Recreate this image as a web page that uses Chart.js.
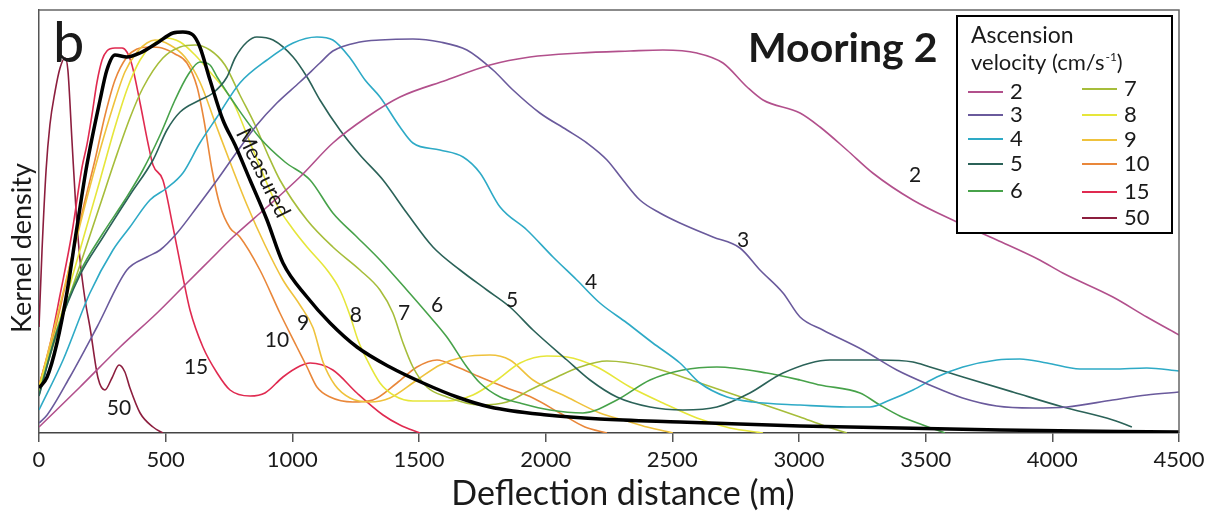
<!DOCTYPE html>
<html>
<head>
<meta charset="utf-8">
<script src="https://cdn.jsdelivr.net/npm/chart.js@4.4.1/dist/chart.umd.min.js"></script>
<style>
  html, body { margin: 0; padding: 0; background: #fff; }
</style>
</head>
<body>
<canvas id="kdeChart" width="1215" height="516"></canvas>
<script>
// Deflection distance (m) and kernel density (arbitrary units)
const xTickValues = [0, 500, 1000, 1500, 2000, 2500, 3000, 3500, 4000, 4500]

const measuredX = [0, 32, 71, 110, 150, 189, 241, 268, 300, 347, 399, 466, 529, 568, 608, 635, 675, 726, 774, 833, 900, 963, 1058, 1149, 1255, 1385, 1516, 1650, 1780, 2005, 2214, 2530, 3004, 3793, 4500]
const measuredY = [45, 56, 90, 140, 206, 268, 333, 363, 378, 376, 380, 390, 400, 401, 398, 386, 353, 313, 288, 253, 213, 170, 136, 110, 86, 66, 50, 36, 26, 18, 14, 11, 7, 3, 1]

const v2X = [0, 162, 320, 466, 584, 675, 766, 900, 1030, 1160, 1295, 1425, 1610, 1780, 1938, 2135, 2333, 2463, 2597, 2700, 2795, 2858, 3004, 3083, 3189, 3291, 3449, 3623, 3781, 3950, 4041, 4239, 4373, 4500]
const v2Y = [6, 46, 86, 120, 150, 173, 196, 226, 256, 290, 316, 336, 353, 368, 376, 380, 382, 383, 380, 370, 346, 333, 320, 306, 283, 260, 233, 211, 193, 173, 160, 136, 116, 98]

const v3X = [0, 32, 122, 229, 347, 426, 478, 545, 624, 703, 781, 860, 939, 1030, 1109, 1160, 1267, 1346, 1476, 1583, 1689, 1792, 1871, 1977, 2084, 2163, 2242, 2305, 2372, 2451, 2530, 2660, 2767, 2846, 2937, 3004, 3094, 3252, 3386, 3516, 3646, 3780, 3922, 4057, 4238, 4373, 4500]
const v3Y = [10, 18, 56, 106, 163, 176, 183, 200, 226, 253, 281, 308, 330, 351, 370, 382, 391, 393, 394, 391, 383, 363, 343, 320, 303, 290, 273, 253, 233, 220, 210, 196, 185, 163, 140, 116, 103, 83, 63, 48, 35, 27, 25, 26, 33, 38, 41]

const v4X = [0, 95, 201, 292, 359, 438, 505, 568, 635, 703, 793, 900, 1003, 1097, 1160, 1228, 1287, 1346, 1425, 1476, 1583, 1674, 1741, 1820, 1926, 2029, 2123, 2214, 2321, 2423, 2530, 2609, 2716, 2818, 3004, 3189, 3280, 3359, 3450, 3544, 3647, 3781, 3872, 3979, 4109, 4239, 4373, 4500]
const v4Y = [23, 73, 140, 183, 206, 233, 245, 260, 290, 316, 350, 373, 390, 396, 393, 375, 353, 336, 306, 290, 283, 276, 260, 226, 203, 176, 153, 130, 110, 90, 70, 50, 36, 31, 28, 26, 26, 33, 43, 56, 66, 73, 74, 70, 64, 64, 65, 62]

const v5X = [0, 71, 162, 253, 359, 450, 505, 557, 635, 687, 742, 774, 821, 860, 924, 1003, 1058, 1109, 1188, 1267, 1358, 1452, 1555, 1662, 1768, 1859, 1950, 2084, 2175, 2281, 2412, 2542, 2676, 2806, 2937, 3122, 3319, 3450, 3517, 3647, 3844, 4042, 4239, 4314]
const v5Y = [37, 101, 158, 196, 238, 273, 303, 321, 333, 340, 356, 375, 391, 396, 393, 376, 356, 333, 303, 278, 253, 220, 186, 163, 143, 126, 103, 73, 53, 36, 26, 23, 26, 40, 60, 73, 73, 71, 66, 56, 41, 26, 13, 6]

const v6X = [0, 71, 162, 253, 339, 410, 478, 537, 588, 635, 675, 703, 781, 872, 971, 1070, 1160, 1255, 1346, 1452, 1531, 1610, 1689, 1741, 1820, 1899, 2017, 2147, 2281, 2412, 2542, 2676, 2873, 3004, 3083, 3241, 3319, 3398, 3489, 3576]
const v6Y = [38, 103, 161, 200, 233, 263, 298, 333, 358, 371, 368, 356, 326, 295, 271, 253, 220, 196, 173, 143, 120, 96, 66, 50, 36, 30, 23, 20, 33, 53, 63, 66, 60, 53, 48, 40, 28, 17, 8, 0]

const v7X = [0, 63, 122, 182, 241, 300, 359, 410, 489, 557, 616, 675, 734, 793, 853, 904, 951, 1058, 1160, 1267, 1346, 1397, 1437, 1476, 1531, 1610, 1741, 1847, 1938, 2045, 2135, 2242, 2412, 2609, 2806, 2924, 3004, 3102, 3189]
const v7Y = [41, 93, 138, 183, 228, 273, 315, 345, 375, 386, 388, 383, 368, 338, 308, 278, 253, 213, 186, 163, 143, 120, 90, 66, 46, 36, 28, 31, 43, 56, 66, 72, 66, 50, 33, 23, 16, 7, 0]

const v8X = [0, 63, 122, 182, 241, 300, 351, 399, 446, 497, 557, 616, 675, 722, 766, 845, 939, 999, 1058, 1137, 1188, 1227, 1259, 1295, 1346, 1405, 1476, 1610, 1713, 1808, 1899, 2005, 2084, 2202, 2333, 2463, 2597, 2727, 2858]
const v8Y = [45, 98, 148, 201, 253, 306, 346, 373, 388, 395, 391, 378, 361, 347, 331, 283, 228, 205, 186, 163, 143, 118, 93, 73, 50, 37, 32, 32, 38, 53, 70, 77, 76, 66, 46, 30, 15, 5, 0]

const v9X = [0, 63, 122, 182, 241, 288, 339, 387, 426, 458, 517, 576, 635, 703, 766, 821, 892, 963, 1030, 1082, 1121, 1168, 1228, 1306, 1385, 1492, 1583, 1674, 1780, 1859, 1950, 2084, 2214, 2321, 2400, 2502]
const v9Y = [46, 108, 168, 228, 283, 323, 361, 381, 390, 393, 388, 376, 351, 305, 263, 228, 188, 153, 128, 105, 71, 48, 35, 31, 35, 53, 68, 76, 78, 73, 53, 36, 20, 12, 6, 0]

const v10X = [0, 63, 122, 182, 221, 261, 300, 347, 387, 438, 485, 537, 584, 624, 651, 683, 714, 754, 793, 872, 951, 1018, 1058, 1097, 1149, 1239, 1318, 1413, 1492, 1571, 1650, 1741, 1847, 1950, 2056, 2155, 2242]
const v10Y = [47, 103, 168, 233, 273, 318, 353, 376, 384, 386, 385, 379, 370, 346, 313, 263, 228, 205, 196, 163, 120, 86, 66, 46, 36, 31, 33, 50, 66, 73, 66, 56, 45, 35, 20, 6, 0]

const v15X = [0, 43, 83, 130, 170, 189, 209, 229, 249, 268, 300, 328, 347, 367, 399, 430, 450, 489, 529, 568, 596, 647, 703, 754, 833, 892, 963, 1030, 1070, 1160, 1255, 1358, 1425, 1504]
const v15Y = [47, 88, 138, 200, 266, 288, 318, 351, 373, 382, 385, 385, 381, 368, 330, 290, 268, 253, 206, 156, 123, 86, 60, 43, 37, 40, 56, 67, 70, 63, 40, 18, 8, 0]

const v50X = [0, 12, 28, 43, 63, 83, 103, 114, 130, 146, 162, 182, 201, 233, 260, 288, 316, 339, 359, 399, 450, 489]
const v50Y = [106, 183, 263, 308, 341, 365, 375, 363, 293, 223, 173, 133, 106, 55, 43, 55, 68, 61, 45, 20, 6, 0]

const velocityLabels = ["2", "3", "4", "5", "6", "7", "8", "9", "10", "15", "50"]
const velocityX = [v2X, v3X, v4X, v5X, v6X, v7X, v8X, v9X, v10X, v15X, v50X]
const velocityY = [v2Y, v3Y, v4Y, v5Y, v6Y, v7Y, v8Y, v9Y, v10Y, v15Y, v50Y]

// on-curve labels (data coordinates)
const curveTagText = ["2", "3", "4", "5", "6", "7", "8", "9", "10", "15", "50"]
const curveTagX = [3458, 2779, 2179, 1867, 1571, 1441, 1251, 1042, 939, 620, 316]
const curveTagY = [258, 193, 151, 133, 128, 120, 118, 110, 93, 66, 25]

const lineColors = {
  "2": "#b2508c",
  "3": "#6a5a9c",
  "4": "#2eaac6",
  "5": "#2b6258",
  "6": "#47a24a",
  "7": "#a6bd3a",
  "8": "#e6e63a",
  "9": "#efc23c",
  "10": "#e9873a",
  "15": "#e02a50",
  "50": "#8c1e3e",
}

const toPoints = (xs, ys) => xs.map((x, i) => ({ x: x, y: ys[i] }))

const datasets = [
  {
    label: "Measured",
    data: toPoints(measuredX, measuredY),
    borderColor: "#000",
    borderWidth: 3.5,
    order: 0,
  },
]
velocityLabels.forEach((v, i) => {
  datasets.push({
    label: v,
    data: toPoints(velocityX[i], velocityY[i]),
    borderColor: lineColors[v],
    borderWidth: 1.6,
    order: 1,
  })
})

Chart.defaults.font.family = "Lato, 'Open Sans', sans-serif"
Chart.defaults.color = "#1a1a1a"

function drawLegend(ctx) {
  ctx.fillStyle = "#fff"
  ctx.fillRect(957, 16, 215, 217)
  ctx.strokeStyle = "#000"
  ctx.lineWidth = 2
  ctx.strokeRect(957, 16, 215, 217)

  ctx.fillStyle = "#1a1a1a"
  ctx.textAlign = "left"
  ctx.textBaseline = "alphabetic"
  ctx.font = "23px Lato"
  ctx.fillText("Ascension", 971, 43)
  ctx.font = "22px Lato"
  const head = "velocity (cm/s"
  ctx.fillText(head, 971, 70)
  const w = ctx.measureText(head).width
  ctx.font = "12px Lato"
  ctx.fillText("-1", 971 + w + 1, 61)
  const w2 = ctx.measureText("-1").width
  ctx.font = "22px Lato"
  ctx.fillText(")", 971 + w + w2 + 1, 70)

  // two columns: 2-6 on the left, 7-50 on the right
  const leftRows = [92, 115, 139, 164, 191]
  const rightRows = [89, 115, 140, 164, 192, 218]
  ctx.font = "22px Lato"
  ctx.textBaseline = "middle"
  velocityLabels.forEach((v, i) => {
    const left = i < 5
    const yy = left ? leftRows[i] : rightRows[i - 5]
    const x0 = left ? 968 : 1082
    ctx.strokeStyle = lineColors[v]
    ctx.lineWidth = 2
    ctx.beginPath()
    ctx.moveTo(x0, yy)
    ctx.lineTo(x0 + 35, yy)
    ctx.stroke()
    ctx.fillStyle = "#1a1a1a"
    ctx.fillText(v, x0 + 42, yy)
  })
}

const annotations = {
  id: "annotations",
  afterDatasetsDraw(chart) {
    const { ctx, chartArea, scales } = chart
    ctx.save()

    // top and right frame
    ctx.strokeStyle = "#666"
    ctx.lineWidth = 1.5
    ctx.beginPath()
    ctx.moveTo(chartArea.left, chartArea.top)
    ctx.lineTo(chartArea.right, chartArea.top)
    ctx.lineTo(chartArea.right, chartArea.bottom)
    ctx.stroke()

    // curve tags
    ctx.fillStyle = "#1a1a1a"
    ctx.font = "21px Lato"
    ctx.textAlign = "center"
    ctx.textBaseline = "middle"
    curveTagText.forEach((t, i) => {
      ctx.fillText(t, scales.x.getPixelForValue(curveTagX[i]), scales.y.getPixelForValue(curveTagY[i]))
    })

    // rotated "Measured" along the black curve
    ctx.save()
    ctx.translate(scales.x.getPixelForValue(884), scales.y.getPixelForValue(260))
    ctx.rotate((64 * Math.PI) / 180)
    ctx.font = "22px Lato"
    ctx.fillText("Measured", 0, 0)
    ctx.restore()

    // panel letter and mooring name
    ctx.textAlign = "left"
    ctx.textBaseline = "alphabetic"
    ctx.font = "56px Lato"
    ctx.fillText("b", 53, 62)
    ctx.font = "bold 41px Lato"
    ctx.fillText("Mooring 2", 748, 62)

    drawLegend(ctx)
    ctx.restore()
  },
  afterDraw(chart) {
    const { ctx } = chart
    ctx.save()
    ctx.fillStyle = "#1a1a1a"
    ctx.textAlign = "center"
    ctx.textBaseline = "middle"
    ctx.font = "34px Lato"
    ctx.fillText("Deflection distance (m)", 623, 494)
    ctx.translate(22, 248)
    ctx.rotate(-Math.PI / 2)
    ctx.font = "27px Lato"
    ctx.fillText("Kernel density", 0, 0)
    ctx.restore()
  },
}

new Chart(document.getElementById("kdeChart"), {
  type: "line",
  data: { datasets: datasets },
  options: {
    responsive: false,
    devicePixelRatio: 1,
    animation: false,
    layout: { padding: { top: 10, right: 36, bottom: 0, left: 0 } },
    elements: {
      point: { radius: 0 },
      line: { cubicInterpolationMode: "monotone", fill: false },
    },
    plugins: {
      legend: { display: false },
      tooltip: { enabled: false },
    },
    scales: {
      x: {
        type: "linear",
        min: 0,
        max: 4500,
        afterBuildTicks: (s) => {
          s.ticks = xTickValues.map((v) => ({ value: v }))
        },
        afterFit: (s) => {
          s.height = 83
        },
        ticks: {
          callback: (v) => String(v),
          font: { size: 22 },
          color: "#1a1a1a",
          padding: 5,
          maxRotation: 0,
          autoSkip: false,
        },
        grid: { display: true, drawOnChartArea: false, drawTicks: true, tickLength: 9, color: "#555", lineWidth: 1.5 },
        border: { display: true, color: "#444", width: 1.5 },
      },
      y: {
        min: 0,
        max: 423,
        afterFit: (s) => {
          s.width = 39
        },
        ticks: { display: false },
        grid: { display: false, drawTicks: false },
        border: { display: true, color: "#555", width: 1.5 },
      },
    },
  },
  plugins: [annotations],
})
</script>
</body>
</html>
